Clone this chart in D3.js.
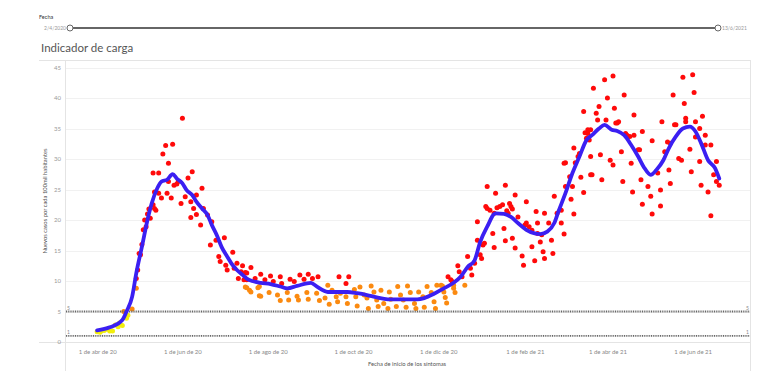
<!DOCTYPE html>
<html><head><meta charset="utf-8">
<script src="https://cdn.jsdelivr.net/npm/d3@7/dist/d3.min.js"></script>
<style>
body{margin:0;background:#fff;}
svg text{font-family:Lato,"Open Sans",sans-serif;}
</style></head>
<body><svg id="c" width="784" height="392"></svg>
<script>
// ---------- DATA ----------
const baseDate = "2020-04-01";
const sliderStartLabel = "2/4/2020";
const sliderEndLabel = "13/6/2021";
const title = "Indicador de carga";
const yTitle = "Nuevos casos por cada 100mil habitantes";
const xTitle = "Fecha de inicio de los síntomas";
const yTicks = [0,5,10,15,20,25,30,35,40,45];
const xTickDates = ["2020-04-01","2020-06-01","2020-08-01","2020-10-01","2020-12-01","2021-02-01","2021-04-01","2021-06-01"];
const xTickLabels = ["1 de abr de 20","1 de jun de 20","1 de ago de 20","1 de oct de 20","1 de dic de 20","1 de feb de 21","1 de abr de 21","1 de jun de 21"];
const refValues = [5, 1];
const refLabels = ["5", "1"];
// color bands for dots (value thresholds)
const bandLimits = [5, 9.5];
const bandColors = ["#f2ee0c", "#fb8a10", "#ff0a0a"];

// smoothed line: day offset from baseDate, value
const lineDays = [0,9,18,21,25,28,32,36,39,43,46,50,54,57,61,64,68,71,75,79,82,86,89,93,96,100,104,107,111,117,124,131,136,143,153,157,165,179,186,193,200,208,229,234,241,248,255,260,265,270,274,279,285,291,296,301,307,313,317,322,327,330,335,340,345,350,354,359,363,368,372,377,382,387,391,396,400,405,409,414,419,424,428,432,437,442,445];
const lineValues = [1.9,2.4,3.6,5.0,7.4,11.3,15.6,20.0,22.7,25.2,26.3,26.6,27.5,26.8,26.0,24.9,24.1,23.0,21.9,20.8,19.2,17.3,15.6,14.0,12.9,11.8,11.0,10.4,10.0,9.7,9.5,9.1,8.8,9.2,9.7,9.1,8.2,8.2,8.0,7.7,7.3,7.0,7.0,7.2,7.9,8.8,9.7,10.7,12.3,13.4,16.4,18.9,21.1,21.0,20.5,19.5,18.4,17.8,17.7,18.1,19.5,21.4,24.4,27.7,30.4,33.1,33.9,35.0,35.6,34.8,34.6,33.9,32.3,30.4,28.7,27.4,28.2,29.8,31.8,33.7,35.0,35.3,34.5,32.6,29.8,28.5,26.8];

// daily dots: [day offset, value]
const dotPoints = [
[0,1.7],[2,1.6],[3,1.8],[5,1.9],[7,2.1],[9,1.8],[11,1.8],[13,2.8],[15,2.5],[16,3.1],[18,2.7],[21,3.9],[22,4.4],[19,5.0],[25,5.4],[28,8.8],
[28,10.4],[29,11.8],[30,14.5],[31,14.3],[32,16.0],[33,18.4],[34,20.0],[35,18.9],[36,21.0],[37,21.8],[38,20.3],[40,22.5],[41,21.9],[42,21.6],[40,27.7],[44,27.7],[41,24.6],[44,24.4],[46,23.6],[47,30.8],[49,32.2],[54,32.4],[51,29.3],[50,24.4],[53,23.6],[51,26.3],[55,25.7],[57,25.9],[61,36.7],[58,26.3],[60,22.7],[63,23.8],[65,26.9],[68,27.9],[67,23.0],[67,20.4],[71,20.9],[69,21.9],[71,24.1],[75,25.2],[76,21.9],[74,19.2],[79,20.8],[82,19.7],[81,15.9],[85,16.7],[87,14.0],[88,13.2],[91,17.1],[92,12.6],[93,11.8],[97,14.7],[98,12.1],[100,12.9],[101,10.4],[103,11.5],[105,10.2],[107,11.3],[110,12.2],
[107,8.9],[109,8.5],[115,8.9],[116,7.6],[113,10.4],
[104,12.5],[106,11.4],[107,10.2],[117,11.1],[120,10.2],[124,10.8],[126,9.9],[131,10.7],[132,9.6],[138,10.3],[141,9.9],[145,11.0],[148,10.3],[151,11.1],[154,10.4],[158,10.7],[173,10.7],[180,10.7],[178,9.6],
[106,9.0],[110,8.2],[116,9.1],[117,7.5],[123,8.1],[129,7.7],[131,6.8],[136,8.1],[137,6.9],[143,7.5],[144,6.9],[150,8.1],[151,7.0],[157,8.0],[159,6.8],[165,9.3],[163,7.2],[166,6.2],[168,8.5],[171,7.4],[172,6.6],[174,8.0],[178,7.4],[179,6.3],[184,8.6],[185,7.4],[186,5.9],[188,9.0],[191,7.7],[193,7.2],[194,5.5],[196,9.2],[198,8.2],[200,6.9],[201,5.8],[203,8.5],[205,6.3],[208,5.5],[209,8.2],[210,7.0],[214,5.8],[215,9.1],[217,7.7],[219,6.9],[221,5.7],[222,9.2],[224,8.1],[227,6.3],[228,5.5],[230,8.2],[233,7.4],[234,5.7],[236,9.1],[239,8.1],[241,6.6],[242,5.5],[243,9.3],[246,9.3],[248,8.2],[255,9.3],
[254,9.9],
[247,9.2],[249,7.3],[250,6.4],[255,8.8],[256,8.1],[263,9.3],
[251,10.7],[253,10.2],[258,12.5],[259,11.5],[261,10.7],[265,14.0],[267,12.1],[268,11.0],[270,12.9],[272,16.7],[274,14.3],[275,13.7],[276,15.9],[277,16.2],[272,19.7],[279,21.9],[281,21.6],[279,25.5],[284,21.1],[285,24.4],[283,17.8],[284,15.5],[288,22.2],[290,22.5],[291,18.6],[292,16.6],[292,25.7],[295,22.7],[296,22.2],[294,21.1],[297,17.0],[299,15.4],[299,24.1],[301,20.5],[304,14.1],[305,12.6],[307,23.0],[307,19.5],[309,18.9],[311,15.6],[313,13.3],[314,21.4],[315,19.5],[315,17.8],[317,16.4],[319,14.8],[320,13.7],[320,21.1],[323,19.5],[325,16.7],[326,14.5],[327,23.9],[329,21.1],[332,21.6],[332,19.5],[334,17.7],[335,29.4],[335,25.5],[338,27.1],[339,23.4],[341,21.0],[342,29.4],[346,27.0],[348,24.5],[353,27.4],
[278,22.2],[286,22.0],[293,21.5],[297,21.8],[306,19.2],[311,18.3],[318,17.6],
[334,29.3],[341,31.8],[344,30.4],[348,37.8],[351,34.2],[352,33.1],[354,27.4],[355,41.6],[357,37.5],[358,36.4],[361,26.6],[363,43.0],[365,40.0],[367,29.8],[369,43.6],[370,38.3],[372,35.9],[375,31.2],[376,26.3],[377,40.5],[378,34.2],[381,33.7],[382,29.3],[383,24.6],[384,37.2],[388,31.5],[389,26.6],[390,34.5],[390,22.6],[394,25.5],[396,23.9],[397,21.0],[397,33.0],[401,27.7],[403,24.9],[403,22.3],[404,36.1],[406,31.2],[409,28.2],[410,26.0],[412,40.5],[413,35.6],[414,35.6],[416,30.1],[418,29.8],[419,43.4],[420,39.1],[421,36.7],[424,31.6],[425,27.9],[426,43.8],[427,40.9],[428,36.1],[428,33.6],[431,29.6],[432,25.7],[433,37.0],[435,33.9],[437,24.6],[439,20.7],[439,32.3],[441,27.4],[443,29.6],[443,26.3],[445,25.7],
[359,38.6],[349,34.3],[353,34.8],[340,25.5],[353,30.4],[360,30.7],[369,29.0],[410,32.6],
[345,30.9],[350,33.4],[351,34.8],[364,36.4],[371,35.9],[373,36.1],[379,33.9],[384,33.9],[387,31.5],[408,32.8],[421,36.1],[431,35.0],[435,32.3]
];

// ---------- DRAW ----------
const svg = d3.select("#c");
const parse = d3.utcParse("%Y-%m-%d");
const base = parse(baseDate);
const dayToDate = d => d3.utcDay.offset(base, d);

const x = d3.scaleUtc().domain([parse("2020-03-09"), parse("2021-07-12")]).range([65, 750]);
const y = d3.scaleLinear().domain([0, 45]).range([342, 67.5]);
const color = d3.scaleThreshold().domain(bandLimits).range(bandColors);

// slider header
svg.append("text").attr("x", 39).attr("y", 19).attr("font-size", 5.5).attr("fill", "#333").text("Fecha");
svg.append("line").attr("x1", 70).attr("x2", 718).attr("y1", 28).attr("y2", 28).attr("stroke", "#666").attr("stroke-width", 2.2);
[70, 718].forEach(cx => svg.append("circle").attr("cx", cx).attr("cy", 28).attr("r", 3).attr("fill", "#fff").attr("stroke", "#666").attr("stroke-width", 1));
svg.append("text").attr("x", 66).attr("y", 30).attr("text-anchor", "end").attr("font-size", 5).attr("fill", "#999").text(sliderStartLabel);
svg.append("text").attr("x", 722).attr("y", 30).attr("font-size", 5).attr("fill", "#999").text(sliderEndLabel);

// title
svg.append("text").attr("x", 41).attr("y", 52).attr("font-size", 11.5).attr("fill", "#555").text(title);

// frame
const frame = svg.append("g").attr("stroke", "#e4e4e4").attr("stroke-width", 1).attr("shape-rendering", "crispEdges");
frame.append("line").attr("x1", 39).attr("x2", 750).attr("y1", 60.5).attr("y2", 60.5);
frame.append("line").attr("x1", 39).attr("x2", 750).attr("y1", 342.5).attr("y2", 342.5);
frame.append("line").attr("x1", 65.5).attr("x2", 65.5).attr("y1", 60).attr("y2", 371);
frame.append("line").attr("x1", 750.5).attr("x2", 750.5).attr("y1", 60).attr("y2", 371);

// gridlines
svg.append("g").selectAll("line").data(yTicks.filter(t => t > 0)).join("line")
  .attr("x1", 66).attr("x2", 750).attr("y1", d => Math.round(y(d)) + 0.5).attr("y2", d => Math.round(y(d)) + 0.5)
  .attr("stroke", "#f1f1f1").attr("stroke-width", 1);

// y axis
const yAxis = svg.append("g").attr("transform", "translate(65,0)")
  .call(d3.axisLeft(y).tickValues(yTicks).tickSize(0).tickPadding(4));
yAxis.select(".domain").remove();
yAxis.selectAll("text").attr("font-size", 6).attr("fill", "#999").attr("font-family", "Lato, sans-serif");

svg.append("text").attr("transform", "translate(47,201) rotate(-90)").attr("text-anchor", "middle")
  .attr("font-size", 5.8).attr("fill", "#555").text(yTitle);

// x axis
const xAxis = svg.append("g").attr("transform", "translate(0,342)")
  .call(d3.axisBottom(x).tickValues(xTickDates.map(parse)).tickFormat((d, i) => xTickLabels[i]).tickSize(0).tickPadding(8));
xAxis.select(".domain").remove();
xAxis.selectAll("text").attr("font-size", 6).attr("fill", "#888").attr("font-family", "Lato, sans-serif");

svg.append("text").attr("x", 407).attr("y", 366).attr("text-anchor", "middle")
  .attr("font-size", 5.8).attr("fill", "#555").text(xTitle);

// dots
svg.append("g").selectAll("circle").data(dotPoints).join("circle")
  .attr("cx", d => x(dayToDate(d[0]))).attr("cy", d => y(d[1])).attr("r", 2.5)
  .attr("fill", d => color(d[1]));

// reference lines
refValues.forEach((v, i) => {
  svg.append("line").attr("x1", 66).attr("x2", 750).attr("y1", y(v)).attr("y2", y(v))
    .attr("stroke", "#666").attr("stroke-width", 1.8).attr("stroke-dasharray", "1,0.8");
  svg.append("text").attr("x", 67).attr("y", y(v) - 2).attr("font-size", 5).attr("fill", "#888").text(refLabels[i]);
  svg.append("text").attr("x", 749).attr("y", y(v) - 2).attr("text-anchor", "end").attr("font-size", 5).attr("fill", "#888").text(refLabels[i]);
});

// smoothed line
const lineData = lineDays.map((d, i) => [d, lineValues[i]]);
svg.append("path").datum(lineData)
  .attr("d", d3.line().x(d => x(dayToDate(d[0]))).y(d => y(d[1])).curve(d3.curveMonotoneX))
  .attr("fill", "none").attr("stroke", "#3b1ff2").attr("stroke-width", 3.8)
  .attr("stroke-linejoin", "round").attr("stroke-linecap", "round");
</script></body></html>
